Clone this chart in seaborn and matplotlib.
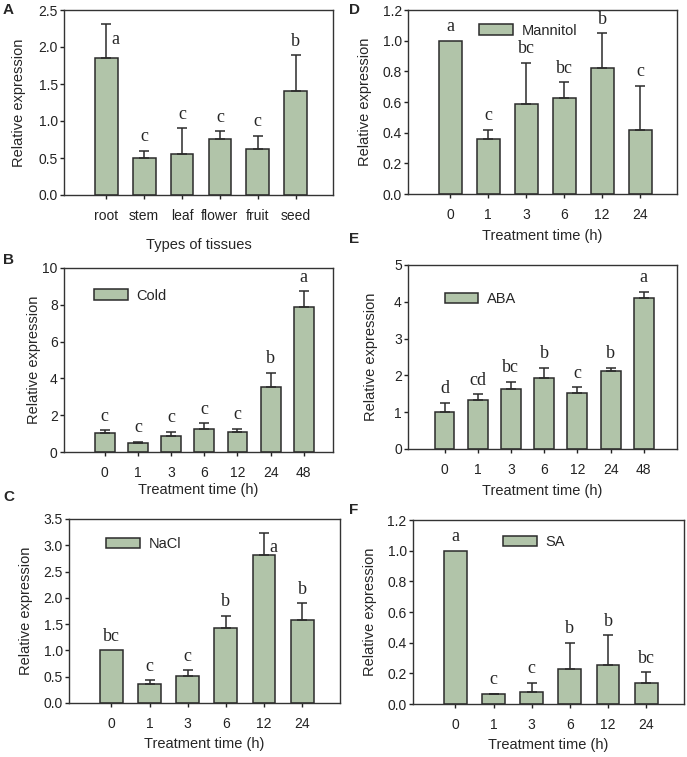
import numpy as np
import pandas as pd
import matplotlib
matplotlib.use("Agg")
import matplotlib.pyplot as plt
from matplotlib.patches import Patch
import seaborn as sns

sns.set_style("white")
plt.rcParams['font.family'] = ['Liberation Sans', 'DejaVu Sans']

# ---------------- data ----------------
tissues = ['root', 'stem', 'leaf', 'flower', 'fruit', 'seed']
tissue_mean = [1.85, 0.50, 0.55, 0.76, 0.62, 1.41]
tissue_sd = [0.46, 0.10, 0.35, 0.10, 0.18, 0.48]
tissue_letters = ['a', 'c', 'c', 'c', 'c', 'b']

time6 = ['0', '1', '3', '6', '12', '24']
time7 = ['0', '1', '3', '6', '12', '24', '48']

mannitol_mean = [1.0, 0.358, 0.588, 0.627, 0.825, 0.417]
mannitol_sd = [0.0, 0.062, 0.267, 0.102, 0.223, 0.29]
mannitol_letters = ['a', 'c', 'bc', 'bc', 'b', 'c']

cold_mean = [1.01, 0.50, 0.85, 1.23, 1.06, 3.55, 7.90]
cold_sd = [0.18, 0.06, 0.25, 0.34, 0.20, 0.76, 0.83]
cold_letters = ['c', 'c', 'c', 'c', 'c', 'b', 'a']

aba_mean = [1.01, 1.32, 1.64, 1.94, 1.52, 2.12, 4.11]
aba_sd = [0.24, 0.17, 0.19, 0.26, 0.16, 0.09, 0.16]
aba_letters = ['d', 'cd', 'bc', 'b', 'c', 'b', 'a']

nacl_mean = [1.0, 0.37, 0.51, 1.42, 2.82, 1.57]
nacl_sd = [0.0, 0.06, 0.11, 0.24, 0.42, 0.33]
nacl_letters = ['bc', 'c', 'c', 'b', 'a', 'b']

sa_mean = [1.0, 0.063, 0.08, 0.23, 0.257, 0.135]
sa_sd = [0.0, 0.003, 0.06, 0.17, 0.19, 0.072]
sa_letters = ['a', 'c', 'c', 'b', 'b', 'bc']

# ---------------- style ----------------
W, H = 687, 757
BAR = '#b1c4a9'
EDGE = '#2b2b2b'
fig = plt.figure(figsize=(W / 100, H / 100), dpi=100)


def rect(l, r, t, b):
    return [l / W, 1 - b / H, (r - l) / W, (b - t) / H]


def panel(pos, cats, mean, sd, letters, ylim, ystep, xlim, xlabel,
          legend=None, leg_xy=None, ylab_x=-0.14, xlab_y=-0.19, fmt='{:.1f}'):
    ax = fig.add_axes(rect(*pos))
    df = pd.DataFrame({'cat': cats, 'val': mean})
    sns.barplot(data=df, x='cat', y='val', order=cats, color=BAR,
                saturation=1, width=0.6, edgecolor=EDGE, linewidth=1.1,
                errorbar=None, ax=ax)
    x = np.arange(len(cats))
    m = np.array(mean)
    s = np.array(sd)
    has = s > 0
    ax.errorbar(x[has], m[has], yerr=[np.zeros(has.sum()), s[has]], fmt='none',
                ecolor=EDGE, elinewidth=1.1, capsize=3.6, capthick=1.1, zorder=1)
    ax.set_ylim(*ylim)
    ax.set_xlim(*xlim)
    ticks = np.arange(ylim[0], ylim[1] + ystep / 2, ystep)
    ax.set_yticks(ticks)
    ax.set_yticklabels([fmt.format(t) for t in ticks])
    for i, (v, e, lt) in enumerate(zip(mean, sd, letters)):
        top = v + e
        if top / ylim[1] > 0.9:
            ax.annotate(lt, (i, top), xytext=(3.5, -11), textcoords='offset points',
                        ha='left', va='center', fontsize=13,
                        family=['Liberation Serif', 'DejaVu Serif'])
        else:
            ax.annotate(lt, (i, top), xytext=(0, 4), textcoords='offset points',
                        ha='center', va='bottom', fontsize=13,
                        family=['Liberation Serif', 'DejaVu Serif'])
    ax.set_xlabel(xlabel, fontsize=10.5)
    ax.set_ylabel('Relative expression', fontsize=10.5)
    ax.yaxis.set_label_coords(ylab_x, 0.5)
    ax.xaxis.set_label_coords(0.5, xlab_y)
    ax.tick_params(axis='y', which='both', left=True, direction='out', length=3,
                   width=1, pad=1.5, labelsize=10, colors='#222222')
    ax.tick_params(axis='x', which='both', bottom=True, direction='out', length=3,
                   width=1, pad=7, labelsize=10, colors='#222222')
    for sp in ax.spines.values():
        sp.set_visible(True)
        sp.set_color('#333333')
        sp.set_linewidth(1)
    if legend:
        h = Patch(facecolor=BAR, edgecolor=EDGE, linewidth=1.1, label=legend)
        ax.legend(handles=[h], loc='center left', bbox_to_anchor=leg_xy,
                  frameon=False, handlelength=2.3, handleheight=0.7,
                  handletextpad=0.6, borderpad=0, borderaxespad=0, fontsize=10.5)
    return ax


panel((64, 333, 10, 195), tissues, tissue_mean, tissue_sd, tissue_letters,
      (0, 2.5), 0.5, (-1.12, 5.99), 'Types of tissues',
      ylab_x=-0.141, xlab_y=-0.235)
panel((408, 677, 10, 194), time6, mannitol_mean, mannitol_sd, mannitol_letters,
      (0, 1.2), 0.2, (-1.11, 5.97), 'Treatment time (h)',
      legend='Mannitol', leg_xy=(0.264, 0.888), ylab_x=-0.134, xlab_y=-0.19)
panel((64, 333, 268, 452), time7, cold_mean, cold_sd, cold_letters,
      (0, 10), 2, (-1.23, 6.88), 'Treatment time (h)',
      legend='Cold', leg_xy=(0.113, 0.85), ylab_x=-0.086, xlab_y=-0.17, fmt='{:.0f}')
panel((408, 677, 265, 449), time7, aba_mean, aba_sd, aba_letters,
      (0, 5), 1, (-1.10, 7.0), 'Treatment time (h)',
      legend='ABA', leg_xy=(0.137, 0.814), ylab_x=-0.11, xlab_y=-0.19, fmt='{:.0f}')
panel((69, 340, 519, 703), time6, nacl_mean, nacl_sd, nacl_letters,
      (0, 3.5), 0.5, (-1.11, 5.99), 'Treatment time (h)',
      legend='NaCl', leg_xy=(0.137, 0.862), ylab_x=-0.133, xlab_y=-0.185)
panel((413, 684, 520, 704), time6, sa_mean, sa_sd, sa_letters,
      (0, 1.2), 0.2, (-1.11, 5.99), 'Treatment time (h)',
      legend='SA', leg_xy=(0.333, 0.882), ylab_x=-0.133, xlab_y=-0.185)

for lab, px, py in [('A', 3, 10), ('D', 349, 10), ('B', 3, 260),
                    ('E', 349, 239), ('C', 3, 497), ('F', 349, 510)]:
    fig.text(px / W, 1 - py / H, lab, fontsize=11, fontweight='bold',
             ha='left', va='center')

fig.savefig('out.png', dpi=100)
